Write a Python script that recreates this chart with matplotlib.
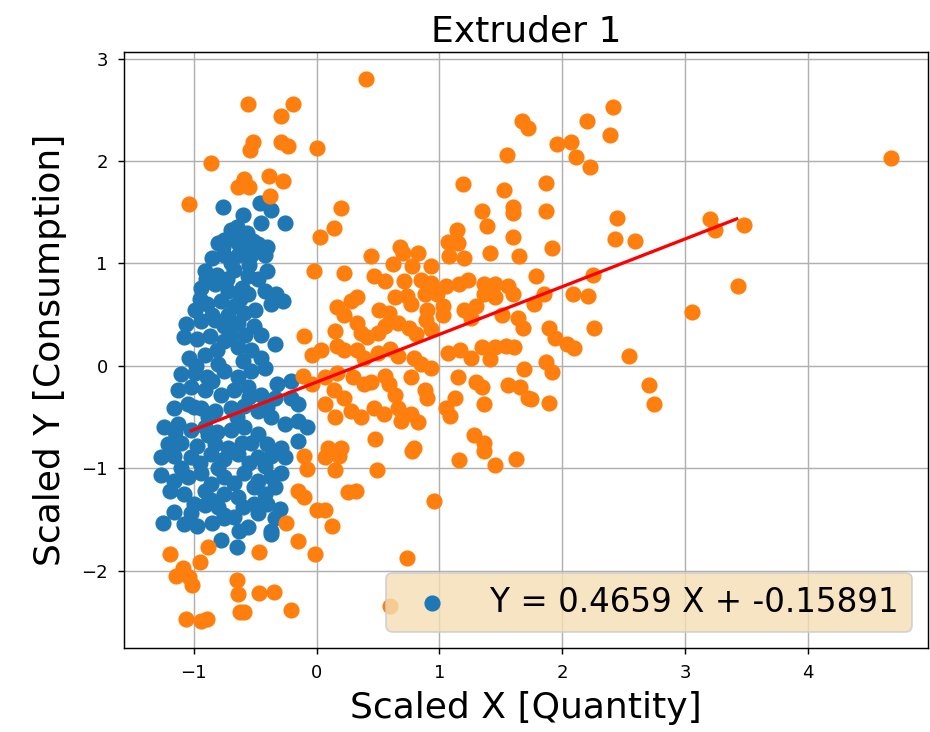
import matplotlib
matplotlib.use("Agg")
import matplotlib.pyplot as plt

title = "Extruder 1"
xlabel = "Scaled X [Quantity]"
ylabel = "Scaled Y [Consumption]"
slope = 0.4659
intercept = -0.15891
line_x = [-1.02, 3.42]

orange_pts = [
    (-0.56, 2.56), (-0.19, 2.56), (-0.29, 2.44), (-0.52, 2.19), (-0.54, 2.11), (-0.29, 2.19), (-0.23, 2.15),
    (0.00, 2.13), (-0.86, 1.98), (-0.59, 1.82), (-0.64, 1.75), (-0.55, 1.75), (-0.39, 1.85), (-0.27, 1.80),
    (-0.38, 1.66), (-1.04, 1.58), (0.03, 1.26), (0.14, 1.35), (0.20, 1.54),
    (-0.10, -0.88), (0.07, -0.89), (-0.08, -1.01), (-0.15, -1.22), (-0.10, -1.28), (0.00, -1.41), (0.07, -1.41),
    (0.13, -1.56), (-0.25, -1.53), (-0.15, -1.71), (-0.01, -1.84), (-0.47, -1.82), (-0.88, -1.77), (-0.95, -1.92),
    (-1.19, -1.84), (-1.09, -1.97), (-1.14, -2.05), (-1.04, -2.06), (-1.01, -2.14), (-0.65, -2.09), (-0.64, -2.23),
    (-0.47, -2.22), (-0.35, -2.21), (-0.21, -2.38), (-0.62, -2.40), (-0.59, -2.40), (-1.06, -2.47), (-0.94, -2.49),
    (-0.89, -2.47),
    (0.18, -0.88), (0.15, -1.02), (0.49, -1.02), (0.78, -0.83), (0.26, -1.23), (0.32, -1.22), (0.96, -1.32),
    (0.74, -1.88), (0.60, -2.34), (1.16, -0.92), (1.45, -0.97), (1.62, -0.91), (1.36, -0.83),
    (0.40, 2.80), (1.67, 2.39), (1.72, 2.32), (1.55, 2.06), (1.19, 1.78), (1.53, 1.72), (1.60, 1.55), (1.60, 1.49),
    (1.35, 1.51), (1.39, 1.37), (1.60, 1.26), (1.14, 1.33), (1.07, 1.21), (1.15, 1.20), (0.68, 1.16),
    (2.41, 2.53), (2.20, 2.39), (1.96, 2.17), (2.07, 2.19), (2.11, 2.04), (2.23, 1.94), (2.39, 2.25), (4.68, 2.03),
    (1.87, 1.79), (1.87, 1.51), (1.92, 1.15), (2.45, 1.44), (2.43, 1.24), (2.59, 1.22), (3.20, 1.43), (3.24, 1.33),
    (3.48, 1.38),
    (1.79, 0.88), (2.25, 0.89), (1.85, 0.70), (1.77, 0.60), (2.09, 0.70), (2.21, 0.68), (3.06, 0.53), (3.43, 0.78),
    (1.89, 0.37), (1.94, 0.27), (2.04, 0.21), (2.10, 0.17), (2.26, 0.37), (2.54, 0.10), (1.87, 0.04), (1.92, -0.06),
    (1.75, -0.32), (1.89, -0.36), (2.71, -0.19), (2.75, -0.37),
    (0.44, 1.07), (0.62, 0.99), (0.70, 1.10), (0.83, 1.10), (0.93, 0.97), (0.78, 0.97), (1.08, 1.07), (1.20, 1.05),
    (1.41, 1.10), (1.65, 1.07), (0.22, 0.91), (0.47, 0.88), (0.56, 0.83), (0.71, 0.83), (0.85, 0.84), (0.93, 0.81),
    (1.05, 0.78), (1.16, 0.80), (1.23, 0.84), (1.36, 0.80), (1.45, 0.80), (1.56, 0.78), (1.60, 0.70), (1.36, 0.70),
    (1.45, 0.67),
    (0.17, 0.57), (0.22, 0.50), (0.33, 0.67), (0.28, 0.63), (0.51, 0.55), (0.59, 0.52), (0.64, 0.67), (0.74, 0.68),
    (0.77, 0.60), (0.88, 0.70), (0.90, 0.55), (0.98, 0.70), (1.03, 0.58), (1.20, 0.55), (1.30, 0.58), (1.26, 0.47),
    (1.51, 0.50), (1.64, 0.47), (1.68, 0.37), (0.15, 0.34), (0.17, 0.19), (0.33, 0.42), (0.36, 0.32), (0.41, 0.28),
    (0.50, 0.32), (0.56, 0.39), (0.66, 0.42), (0.75, 0.37), (0.81, 0.31), (0.89, 0.45), (0.93, 0.36), (1.03, 0.50),
    (0.22, 0.15), (0.33, 0.15), (0.39, 0.08), (0.50, 0.13), (0.60, 0.16), (0.66, 0.10), (0.79, 0.08), (0.85, 0.02),
    (0.93, -0.02), (1.07, 0.13), (1.17, 0.15), (1.26, 0.08), (1.35, 0.18), (1.45, 0.18), (1.54, 0.19), (1.61, 0.18),
    (1.41, 0.07), (1.69, -0.03), (0.17, -0.07), (0.14, -0.24), (0.22, -0.31), (0.30, -0.11), (0.39, -0.18),
    (0.44, -0.16), (0.56, -0.10), (0.59, -0.18), (0.64, -0.28), (0.77, -0.11), (0.88, -0.24), (0.90, -0.31),
    (1.15, -0.11), (1.13, -0.31), (1.30, -0.16), (1.35, -0.21), (1.56, -0.19), (1.66, -0.21), (1.72, -0.31),
    (0.15, -0.50), (0.28, -0.44), (0.36, -0.50), (0.47, -0.41), (0.55, -0.47), (0.66, -0.41), (0.69, -0.54),
    (0.77, -0.47), (0.83, -0.55), (1.05, -0.41), (1.09, -0.49), (1.36, -0.37), (0.48, -0.71), (0.79, -0.80),
    (1.28, -0.68), (1.36, -0.75), (0.20, -0.80),
    (-0.02, 0.93), (-0.10, 0.29), (-0.04, 0.11), (0.04, 0.15), (-0.11, -0.10), (-0.04, -0.18), (0.07, -0.11),
    (0.07, -0.37), (0.09, -0.80),
]

blue_pts = [
    (-0.76, 1.55), (-0.60, 1.47), (-0.46, 1.59), (-0.37, 1.52), (-0.26, 1.39), (-0.45, 1.39), (-0.70, 1.33),
    (-0.65, 1.36), (-0.57, 1.30), (-0.75, 1.23), (-0.64, 1.20), (-0.48, 1.19), (-0.40, 1.16), (-0.76, 1.16),
    (-0.60, 1.14),
    (-0.75, 1.08), (-0.64, 1.08), (-0.53, 1.08), (-0.42, 1.08),
    (-0.85, 1.05), (-0.70, 1.00), (-0.55, 0.98), (-0.80, 1.20), (-0.68, 1.25), (-0.52, 1.22), (-0.90, 0.85),
    (-0.73, 0.85), (-0.48, 0.85), (-0.62, 0.65), (-0.50, 0.55), (-0.85, 0.50), (-0.72, 0.50),
    (-0.40, 0.93), (-0.42, 0.73), (-0.33, 0.70), (-0.27, 0.63), (-0.37, 0.60),
    (-0.91, 0.93), (-0.81, 0.89), (-0.67, 0.94), (-0.56, 0.88),
    (-0.94, 0.76), (-0.83, 0.80), (-0.72, 0.73), (-0.61, 0.76), (-0.56, 0.70),
    (-0.99, 0.55), (-0.89, 0.60), (-0.78, 0.63), (-0.67, 0.58), (-0.59, 0.52), (-0.95, 0.65),
    (-1.06, 0.41), (-0.94, 0.44), (-0.83, 0.45), (-0.75, 0.39), (-0.64, 0.42), (-0.51, 0.39),
    (-1.08, 0.28), (-0.97, 0.26), (-0.87, 0.29), (-0.75, 0.24), (-0.70, 0.30), (-0.58, 0.30), (-0.45, 0.30),
    (-0.64, 0.18), (-0.53, 0.15), (-0.45, 0.08), (-0.34, 0.21),
    (-1.04, 0.08), (-0.91, 0.11), (-0.81, 0.15), (-0.98, 0.00), (-0.80, 0.02), (-0.60, 0.05),
    (-1.10, -0.08), (-0.99, -0.07), (-0.89, -0.11), (-0.75, -0.05), (-0.64, -0.11), (-0.53, -0.05), (-0.42, -0.02),
    (-0.32, -0.18), (-0.21, -0.15), (-0.85, -0.15),
    (-1.13, -0.24), (-1.02, -0.21), (-0.91, -0.24), (-0.78, -0.28), (-0.67, -0.24), (-0.56, -0.21), (-0.45, -0.28),
    (-0.34, -0.31), (-0.15, -0.37), (-0.21, -0.31), (-0.55, -0.30),
    (-1.16, -0.41), (-1.05, -0.37), (-0.94, -0.41), (-0.83, -0.44), (-0.70, -0.41), (-0.59, -0.39), (-0.48, -0.44),
    (-0.37, -0.50), (-0.26, -0.57), (-0.15, -0.54), (-0.08, -0.60), (-1.00, -0.40), (-0.88, -0.50), (-0.65, -0.50),
    (-0.40, -0.40),
    (-1.24, -0.60), (-1.13, -0.57), (-1.02, -0.63), (-0.91, -0.60), (-0.81, -0.65), (-0.70, -0.63), (-0.59, -0.60),
    (-0.48, -0.67), (-1.15, -0.65), (-0.88, -0.68),
    (-1.21, -0.76), (-1.10, -0.75), (-0.97, -0.78), (-0.83, -0.76), (-0.72, -0.80), (-0.61, -0.75), (-0.40, -0.76),
    (-0.29, -0.80), (-0.15, -0.73), (-0.53, -0.75),
    (-1.27, -0.89), (-1.16, -0.88), (-1.02, -0.89), (-0.86, -0.86), (-0.75, -0.91), (-0.64, -0.86), (-0.48, -0.89),
    (-0.37, -0.88), (-0.26, -0.89), (-0.95, -0.95), (-0.80, -1.00), (-0.55, -0.95), (-0.42, -0.98), (-1.10, -1.00),
    (-1.27, -1.07), (-1.16, -1.12), (-1.05, -1.09), (-0.94, -1.05), (-0.86, -1.15), (-0.75, -1.09), (-0.67, -1.14),
    (-0.59, -1.05), (-0.48, -1.12), (-0.37, -1.09), (-0.29, -1.05),
    (-1.19, -1.22), (-1.08, -1.25), (-0.91, -1.22), (-0.86, -1.31), (-0.75, -1.25), (-0.64, -1.28), (-0.51, -1.18),
    (-0.42, -1.25), (-0.34, -1.18), (-1.00, -1.35), (-0.80, -1.38), (-0.60, -1.38), (-0.40, -1.35),
    (-1.16, -1.43), (-1.02, -1.44), (-0.91, -1.36), (-0.75, -1.46), (-0.67, -1.48), (-0.51, -1.35), (-0.48, -1.44),
    (-0.30, -1.40),
    (-1.25, -1.53), (-1.08, -1.54), (-0.97, -1.56), (-0.85, -1.53), (-0.75, -1.49), (-0.63, -1.61), (-0.56, -1.57),
    (-0.37, -1.61), (-0.34, -1.49),
    (-0.78, -1.70), (-0.65, -1.77), (-0.37, -1.64),
]

blue_x = [p[0] for p in blue_pts]
blue_y = [p[1] for p in blue_pts]
orange_x = [p[0] for p in orange_pts]
orange_y = [p[1] for p in orange_pts]
line_y = [slope * v + intercept for v in line_x]

DPI = 130
fig = plt.figure(figsize=(930 / DPI, 732 / DPI), dpi=DPI)
ax = fig.add_axes([0.1333, 0.1148, 0.8645, 0.8142])
ax.scatter(blue_x, blue_y, s=63, color="#1f77b4", zorder=2)
ax.scatter(orange_x, orange_y, s=63, color="#ff7f0e", zorder=2)
ax.plot(line_x, line_y, color="red", linewidth=1.8, zorder=3)
ax.grid(True)
ax.set_axisbelow(True)
ax.tick_params(pad=5.5)
ax.set_title(title, fontsize=20)
ax.set_xlabel(xlabel, fontsize=20, labelpad=5)
ax.set_ylabel(ylabel, fontsize=20, labelpad=8)
ax.legend([f"Y = {slope} X + {intercept}"], loc="lower right", fontsize=18, facecolor="wheat")
fig.savefig("out.png", dpi=DPI)
